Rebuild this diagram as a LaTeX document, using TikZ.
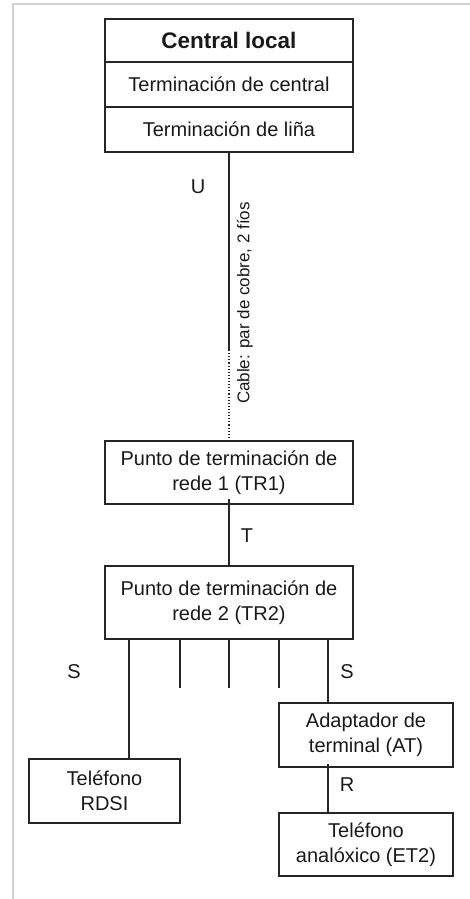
\documentclass[tikz,border=0pt]{standalone}
\usepackage{fontspec}
\setmainfont{Liberation Sans}
\begin{document}
\begin{tikzpicture}[x=1pt,y=-1pt,
  box/.style={draw=black!85,line width=1.3pt,rectangle,align=center,inner sep=0pt,
    font=\fontsize{20}{25}\selectfont,text=black!90},
  conn/.style={draw=black!85,line width=1.1pt},
  lbl/.style={font=\fontsize{20}{24}\selectfont,text=black!90,inner sep=0pt}]
\useasboundingbox (0,0) rectangle (470,899);
% frame
\draw[black!18,line width=2pt] (13,899) -- (13,4) -- (470,4);
% Central local stack
\node[box,minimum width=248pt,minimum height=43pt,font=\fontsize{22.5}{27}\selectfont\bfseries] (cl) at (229,40.5) {Central local};
\node[box,minimum width=248pt,minimum height=45pt] (tc) at (229,84.5) {Terminación de central};
\node[box,minimum width=248pt,minimum height=45pt] (tl) at (229,129.5) {Terminación de liña};
% TR1, TR2
\node[box,minimum width=248pt,minimum height=63pt] (tr1) at (229,472.5) {Punto de terminación de\\rede 1 (TR1)};
\node[box,minimum width=248pt,minimum height=73pt] (tr2) at (229,602.5) {Punto de terminación de\\rede 2 (TR2)};
% terminals
\node[box,minimum width=151pt,minimum height=64pt] (rdsi) at (104.5,791) {Teléfono\\RDSI};
\node[box,minimum width=174pt,minimum height=64pt] (at) at (366,735) {Adaptador de\\terminal (AT)};
\node[box,minimum width=174pt,minimum height=63pt] (et2) at (366,844.5) {Teléfono\\analóxico (ET2)};
% coordinates
\coordinate (umid) at (229,350);
\coordinate (x1) at (129,0);
\coordinate (x2) at (180,0);
\coordinate (x3) at (229,0);
\coordinate (x4) at (279,0);
\coordinate (x5) at (328,0);
\coordinate (e2) at (180,688);
\coordinate (e3) at (229,688);
\coordinate (e4) at (279,688);
\coordinate (rtop) at (328,764);
% connectors
\draw[conn] (tl.south) -- (umid);
\draw[conn,dotted,line width=1.4pt] (umid) -- (tr1.north);
\draw[conn] ([yshift=6pt]tr1.south) -- (tr2.north);
\draw[conn] (tr2.south -| x1) -- (rdsi.north -| x1);
\draw[conn] (tr2.south -| x2) -- (e2);
\draw[conn] (tr2.south -| x3) -- (e3);
\draw[conn] (tr2.south -| x4) -- (e4);
\draw[conn] (tr2.south -| x5) -- (at.north -| x5);
\draw[conn] (rtop) -- (et2.north -| x5);
% labels
\node[lbl] (lu) at (198,187) {U};
\node[lbl,rotate=90,font=\fontsize{17}{20}\selectfont] (lcable) at (245,303) {Cable: par de cobre, 2 fíos};
\node[lbl] (lt) at (247,536) {T};
\node[lbl] (ls1) at (74,672) {S};
\node[lbl] (ls2) at (347,672) {S};
\node[lbl] (lr) at (347,785) {R};
\end{tikzpicture}
\end{document}
